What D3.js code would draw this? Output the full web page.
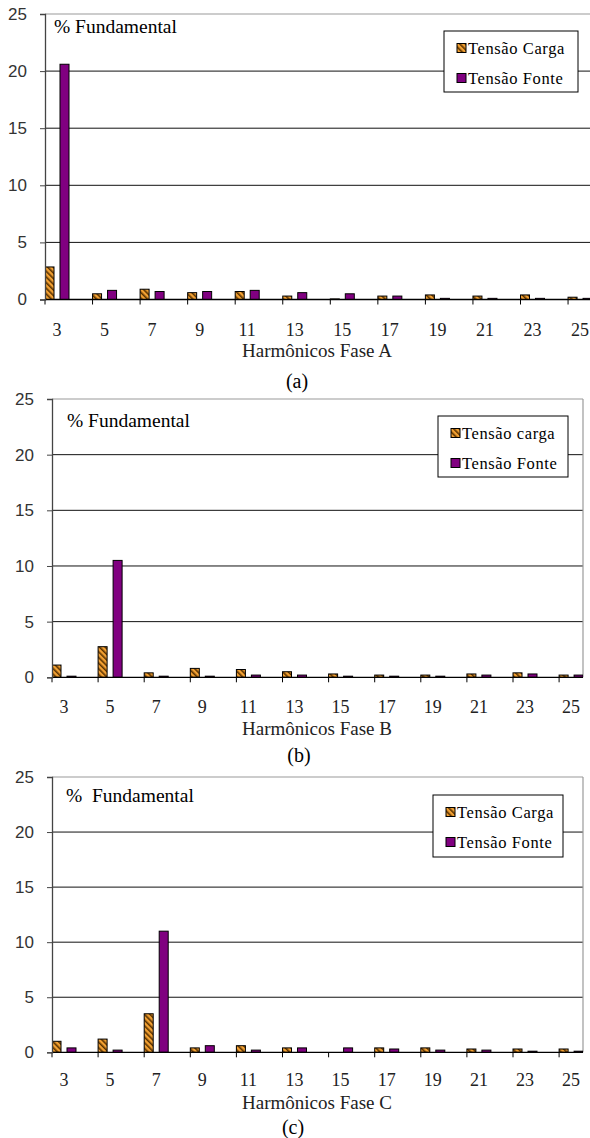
<!DOCTYPE html>
<html>
<head>
<meta charset="utf-8">
<script src="https://cdn.jsdelivr.net/npm/d3@7"></script>
<style>
  html, body { margin: 0; padding: 0; background: #fff; }
  svg { display: block; }
  .serif { font-family: "Liberation Serif", "Times New Roman", serif; }
  .sans { font-family: "Liberation Sans", Arial, sans-serif; }
</style>
</head>
<body>
<div id="chart"></div>
<script>
// harmonic orders (x categories)
const categories = ["3", "5", "7", "9", "11", "13", "15", "17", "19", "21", "23", "25"];
const yTicks = [0, 5, 10, 15, 20, 25];

// % of fundamental
const cargaA = [2.85, 0.5, 0.9, 0.6, 0.7, 0.3, 0.05, 0.3, 0.4, 0.3, 0.4, 0.2];
const fonteA = [20.6, 0.8, 0.7, 0.7, 0.8, 0.6, 0.5, 0.3, 0.1, 0.1, 0.1, 0.1];
const cargaB = [1.1, 2.75, 0.4, 0.8, 0.7, 0.5, 0.3, 0.2, 0.2, 0.3, 0.4, 0.2];
const fonteB = [0.1, 10.5, 0.1, 0.1, 0.2, 0.2, 0.1, 0.1, 0.1, 0.2, 0.3, 0.2];
const cargaC = [1.0, 1.2, 3.5, 0.4, 0.6, 0.4, 0, 0.4, 0.4, 0.3, 0.3, 0.3];
const fonteC = [0.4, 0.2, 11.0, 0.6, 0.2, 0.4, 0.4, 0.3, 0.2, 0.2, 0.1, 0.1];

const legendA = ["Tensão Carga", "Tensão Fonte"];
const legendB = ["Tensão carga", "Tensão Fonte"];
const legendC = ["Tensão Carga", "Tensão Fonte"];
const axisTitles = ["Harmônicos Fase A", "Harmônicos Fase B", "Harmônicos Fase C"];
const panelLabels = ["(a)", "(b)", "(c)"];
const unitLabels = ["% Fundamental", "% Fundamental", "%  Fundamental"];

const width = 590;
const height = 1138;

// layout of each panel (pixels)
const panels = [
  { carga: cargaA, fonte: fonteA, legend: legendA, top: 14, bottom: 299.5, left: 45, step: 47.55, right: 590, border: false,
    legendBox: [444, 31, 134, 61], unit: [54, 33], tickY: 336, titleY: 357, labelY: 388, labelX: 297 },
  { carga: cargaB, fonte: fonteB, legend: legendB, top: 399, bottom: 677.3, left: 52, step: 46.1, right: 583, border: true,
    legendBox: [438, 416, 130, 61], unit: [67, 427], tickY: 713, titleY: 735, labelY: 762, labelX: 299 },
  { carga: cargaC, fonte: fonteC, legend: legendC, top: 777, bottom: 1052.3, left: 52, step: 46.1, right: 583, border: true,
    legendBox: [433, 795, 130, 62], unit: [66, 802], tickY: 1086, titleY: 1109, labelY: 1134, labelX: 293 }
];

const orange = "#f2a032";
const purple = "#800080";

const svg = d3.select("#chart").append("svg")
  .attr("width", width)
  .attr("height", height);

// diagonal hatch for the "Carga" series
const defs = svg.append("defs");
const hatch = defs.append("pattern")
  .attr("id", "hatch")
  .attr("patternUnits", "userSpaceOnUse")
  .attr("width", 4)
  .attr("height", 4)
  .attr("patternTransform", "rotate(-45)");
hatch.append("rect").attr("width", 4).attr("height", 4).attr("fill", orange);
hatch.append("rect").attr("width", 1.6).attr("height", 4).attr("fill", "#5a3200");

panels.forEach((p, pi) => {
  const g = svg.append("g");

  const y = d3.scaleLinear().domain([0, 25]).range([p.bottom, p.top]);
  const x = d3.scaleBand().domain(categories)
    .range([p.left, p.left + p.step * categories.length]);
  const xs = d3.scaleBand().domain(["carga", "fonte"]).range([0, 24]).paddingInner(0.4);

  // gridlines
  g.selectAll(".grid")
    .data(yTicks.filter(t => t > 0 && t < 25))
    .enter()
    .append("line")
    .attr("x1", p.left).attr("x2", p.right)
    .attr("y1", d => y(d)).attr("y2", d => y(d))
    .attr("stroke", "#111")
    .attr("stroke-width", 1);

  // frame (top line + right border)
  g.append("line")
    .attr("x1", p.left).attr("x2", p.right)
    .attr("y1", y(25)).attr("y2", y(25))
    .attr("stroke", "#9a9a9a").attr("stroke-width", 1.2);
  if (p.border) {
    g.append("line")
      .attr("x1", p.right).attr("x2", p.right)
      .attr("y1", y(25)).attr("y2", y(0))
      .attr("stroke", "#9a9a9a").attr("stroke-width", 1.2);
  }

  // bars
  const clipId = "clip" + pi;
  defs.append("clipPath").attr("id", clipId)
    .append("rect")
    .attr("x", p.left).attr("y", p.top - 2)
    .attr("width", p.right - p.left).attr("height", p.bottom - p.top + 6);

  const bars = g.append("g").attr("clip-path", `url(#${clipId})`);
  const series = [
    { key: "carga", values: p.carga, fill: "url(#hatch)" },
    { key: "fonte", values: p.fonte, fill: purple }
  ];
  series.forEach(s => {
    bars.selectAll(".bar-" + s.key)
      .data(s.values)
      .enter()
      .append("rect")
      .attr("x", (d, i) => x(categories[i]) + xs(s.key))
      .attr("width", xs.bandwidth())
      .attr("y", d => y(d))
      .attr("height", d => y(0) - y(d))
      .attr("fill", s.fill)
      .attr("stroke", "#000")
      .attr("stroke-width", 1);
  });

  // x axis line and ticks
  g.append("line")
    .attr("x1", p.left).attr("x2", p.right)
    .attr("y1", y(0)).attr("y2", y(0))
    .attr("stroke", "#000").attr("stroke-width", 1.3);
  g.selectAll(".xtick")
    .data(categories)
    .enter()
    .append("line")
    .attr("x1", d => x(d)).attr("x2", d => x(d))
    .attr("y1", y(0)).attr("y2", y(0) + 5)
    .attr("stroke", "#000");

  g.selectAll(".xlabel")
    .data(categories)
    .enter()
    .append("text")
    .attr("class", "serif")
    .attr("x", d => x(d) + 12)
    .attr("y", p.tickY)
    .attr("text-anchor", "middle")
    .attr("font-size", 18)
    .attr("fill", "#222")
    .text(d => d);

  // y axis
  const yAxis = g.append("g")
    .attr("transform", `translate(${p.left},0)`)
    .call(d3.axisLeft(y).tickValues(yTicks).tickSize(5).tickPadding(13));
  yAxis.select(".domain").attr("stroke", "#444").attr("stroke-width", 1.3);
  yAxis.selectAll(".tick line").attr("stroke", "#444");
  yAxis.selectAll("text")
    .attr("class", "sans")
    .attr("font-size", 17)
    .attr("fill", "#333");

  // unit label
  g.append("text")
    .attr("class", "serif")
    .attr("x", p.unit[0]).attr("y", p.unit[1])
    .attr("font-size", 19.5)
    .attr("xml:space", "preserve")
    .style("white-space", "pre")
    .text(unitLabels[pi]);

  // legend
  const [lx, ly, lw, lh] = p.legendBox;
  const lg = g.append("g");
  lg.append("rect")
    .attr("x", lx).attr("y", ly)
    .attr("width", lw).attr("height", lh)
    .attr("fill", "#fff").attr("stroke", "#000").attr("stroke-width", 1);
  const items = lg.selectAll(".item")
    .data(series)
    .enter()
    .append("g")
    .attr("transform", (d, i) => `translate(${lx + 13},${ly + 17 + i * 30})`);
  items.append("rect")
    .attr("x", 0).attr("y", -4.5)
    .attr("width", 9).attr("height", 9)
    .attr("fill", d => d.fill)
    .attr("stroke", "#000");
  items.append("text")
    .attr("class", "serif")
    .attr("x", 11)
    .attr("y", 5.5)
    .attr("font-size", 16.5)
    .attr("letter-spacing", 0.6)
    .text((d, i) => p.legend[i]);

  // axis title and panel label
  g.append("text")
    .attr("class", "serif")
    .attr("x", 317).attr("y", p.titleY)
    .attr("text-anchor", "middle")
    .attr("font-size", 19)
    .attr("fill", "#222")
    .text(axisTitles[pi]);

  g.append("text")
    .attr("class", "serif")
    .attr("x", p.labelX).attr("y", p.labelY)
    .attr("text-anchor", "middle")
    .attr("font-size", 20)
    .text(panelLabels[pi]);
});
</script>
</body>
</html>
